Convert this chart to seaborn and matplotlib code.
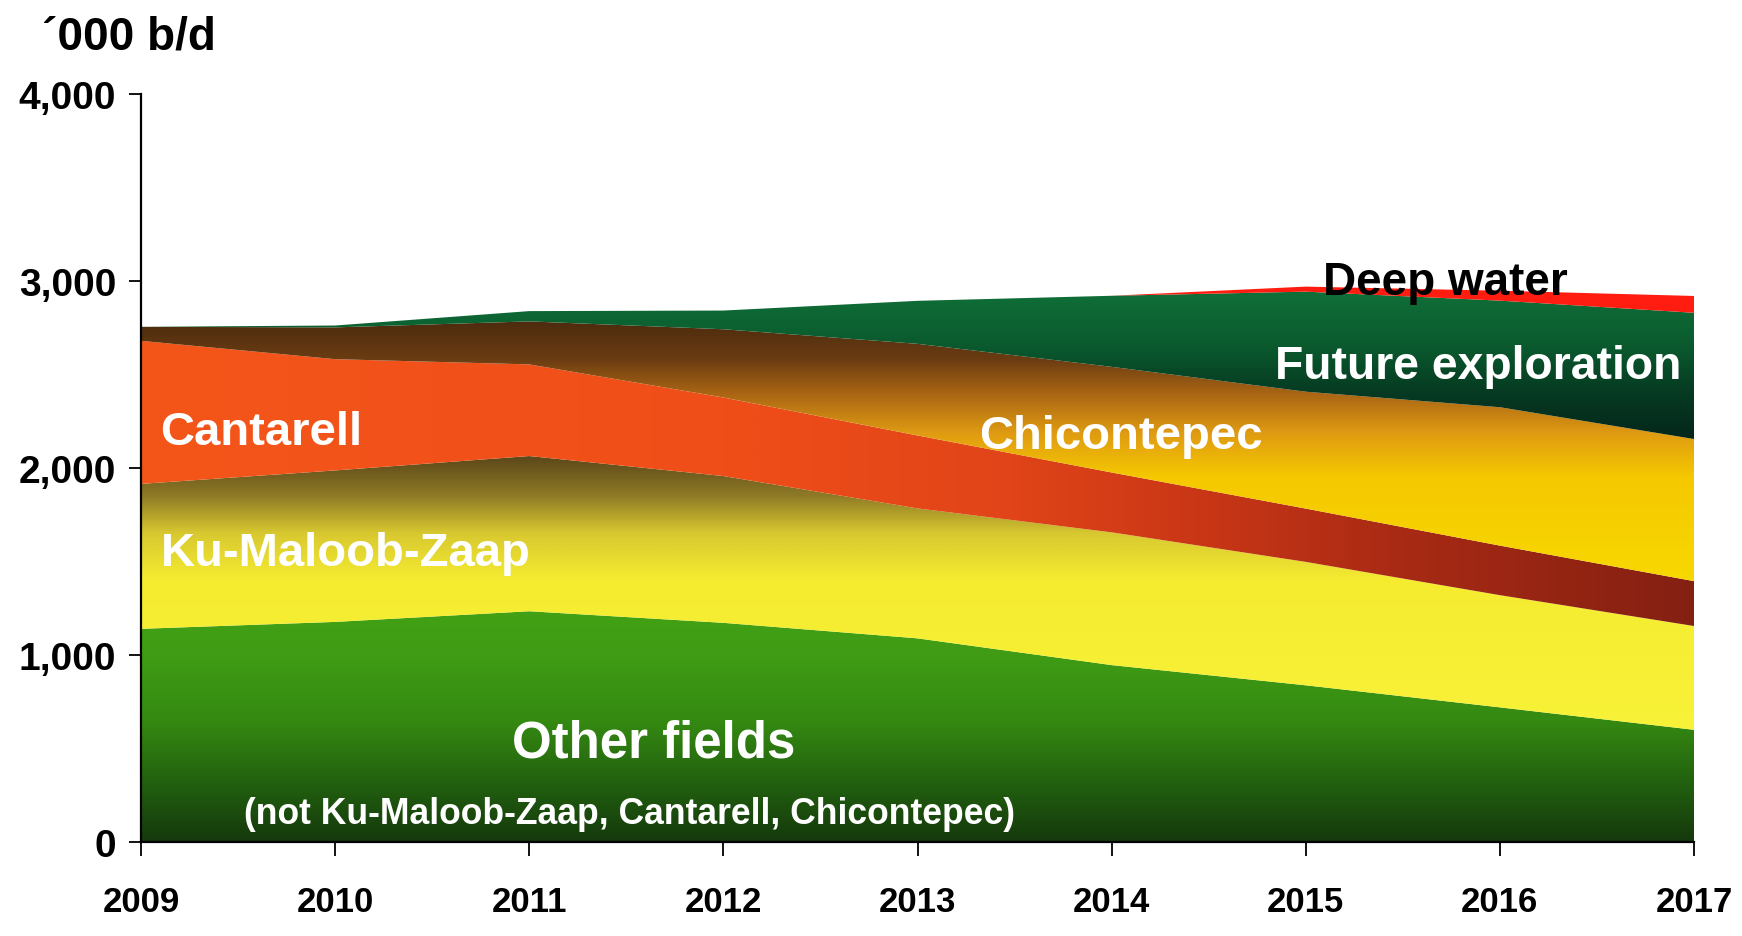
import numpy as np
import matplotlib
matplotlib.use("Agg")
import matplotlib.pyplot as plt
import seaborn as sns
from matplotlib.colors import to_rgb
from matplotlib.patches import PathPatch

# ---------------- data ('000 b/d, stacked layers) ----------------
years = [2009, 2010, 2011, 2012, 2013, 2014, 2015, 2016, 2017]
other_fields = [1140, 1177, 1234, 1172, 1089, 946, 838, 720, 600]
ku_maloob_zaap = [775, 810, 830, 785, 695, 710, 660, 600, 555]
cantarell = [765, 595, 490, 420, 390, 320, 285, 265, 240]
chicontepec = [75, 170, 230, 365, 490, 565, 625, 740, 760]
future_exploration = [0, 10, 55, 100, 230, 380, 535, 570, 675]
deep_water = [0, 0, 0, 0, 0, 0, 27, 53, 90]
y_ticks = [0, 1000, 2000, 3000, 4000]
y_tick_labels = ["0", "1,000", "2,000", "3,000", "4,000"]
unit_label = "´000 b/d"

# ---------------- style ----------------
sns.set_theme(style="ticks")
plt.rcParams["font.family"] = ["Liberation Sans", "DejaVu Sans"]

W, H = 1742, 937
fig = plt.figure(figsize=(W / 100, H / 100), dpi=100)
fig.patch.set_facecolor("white")
ax = fig.add_axes([141 / W, 94 / H, (1694 - 141) / W, 748 / H])
ax.set_facecolor("white")

layers = [other_fields, ku_maloob_zaap, cantarell, chicontepec,
          future_exploration, deep_water]
cum = np.cumsum(np.array(layers, dtype=float), axis=0)
lowers = [np.zeros(len(years))] + [cum[i] for i in range(len(layers) - 1)]
uppers = [cum[i] for i in range(len(layers))]

gx = np.linspace(years[0], years[-1], 500)
gy = np.linspace(0, 3300, 900)
GX, GY = np.meshgrid(gx, gy)


def ramp(v, stops):
    pos = [s[0] for s in stops]
    cols = np.array([to_rgb(s[1]) for s in stops])
    return np.stack([np.interp(v, pos, cols[:, i]) for i in range(3)], axis=-1)


grads = [
    ramp(GY, [(0, "#15380c"), (300, "#215f0f"), (650, "#358a12"), (1000, "#3f9c14"), (1400, "#45a416")]),
    ramp(GY, [(600, "#f8f238"), (1400, "#f5ec30"), (1650, "#d8c830"), (1850, "#8e7a26"), (2050, "#5e4a1a")]),
    ramp(GX, [(2009, "#f4561a"), (2012, "#f04e18"), (2013.5, "#e04418"), (2014.5, "#c83616"), (2015.5, "#a82a14"), (2017, "#842012")]),
    ramp(GY, [(1400, "#f8d800"), (1950, "#f5c800"), (2180, "#e09c12"), (2400, "#a86414"), (2580, "#6a3c12"), (2800, "#4a2a0e")]),
    ramp(GY, [(2150, "#04261a"), (2400, "#063a22"), (2650, "#0a5a2e"), (2950, "#107038")]),
    ramp(GY, [(0, "#ff1c10"), (3300, "#ff1c10")]),
]

for lo, up, img in zip(lowers, uppers, grads):
    poly = ax.fill_between(years, lo, up, facecolor="none", edgecolor="none", linewidth=0)
    path = poly.get_paths()[0]
    patch = PathPatch(path, transform=ax.transData, facecolor="none", edgecolor="none")
    ax.add_patch(patch)
    im = ax.imshow(img, extent=[years[0], years[-1], 0, 3300], origin="lower",
                   aspect="auto", interpolation="bilinear", zorder=1)
    im.set_clip_path(patch)

ax.set_xlim(years[0], years[-1])
ax.set_ylim(0, 4000)

# ---------------- axes ----------------
sns.despine(ax=ax)
for s in ("left", "bottom"):
    ax.spines[s].set_color("black")
    ax.spines[s].set_linewidth(1.6)
    ax.spines[s].set_zorder(5)

ax.set_xticks(years)
ax.set_xticklabels([str(y) for y in years])
ax.set_yticks(y_ticks)
ax.set_yticklabels(y_tick_labels)
ax.tick_params(axis="x", direction="out", length=10, width=1.3, pad=21, colors="black")
ax.tick_params(axis="y", direction="out", length=9, width=1.3, pad=9, colors="black")
for lab in ax.get_xticklabels():
    lab.set_fontweight("bold")
    lab.set_fontsize(25)
for lab in ax.get_yticklabels():
    lab.set_fontweight("bold")
    lab.set_fontsize(28)

fig.text(42 / W, 1 - 50 / H, unit_label, fontweight="bold", fontsize=33,
         color="black", ha="left", va="baseline")

# ---------------- layer labels ----------------
lab_kw = dict(fontweight="bold", color="white", ha="left", va="center", zorder=6)
ax.text(2009.10, 2193, "Cantarell", fontsize=34, **lab_kw)
ax.text(2009.10, 1545, "Ku-Maloob-Zaap", fontsize=34, **lab_kw)
ax.text(2013.32, 2171, "Chicontepec", fontsize=34, **lab_kw)
ax.text(2014.84, 2545, "Future exploration", fontsize=33.3, **lab_kw)
ax.text(2010.91, 529, "Other fields", fontsize=36.7, **lab_kw)
ax.text(2009.53, 155, "(not Ku-Maloob-Zaap, Cantarell, Chicontepec)",
        fontsize=25.6, **lab_kw)
ax.text(2015.09, 2995, "Deep water", fontsize=33, fontweight="bold", color="black",
        ha="left", va="center", zorder=6)

fig.savefig("out.png", dpi=100, facecolor="white")
